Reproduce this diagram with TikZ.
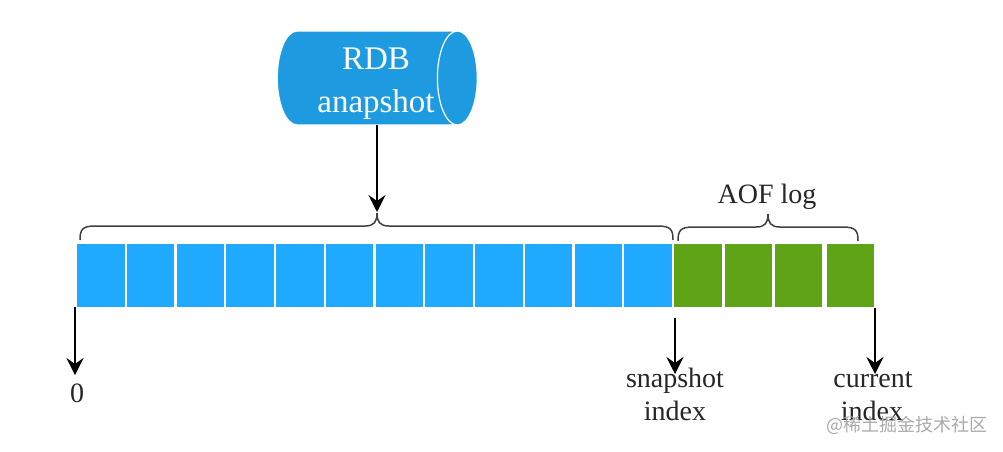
\documentclass[tikz,border=0pt]{standalone}
\usepackage{fontspec}
\setmainfont{Liberation Serif}
\newfontfamily\cjkfont{Noto Sans CJK SC}
\usetikzlibrary{arrows.meta,shapes.geometric}
\definecolor{dbblue}{HTML}{1E9BE0}
\definecolor{cellblue}{HTML}{1FA9FF}
\definecolor{cellgreen}{HTML}{5FA317}
\definecolor{markgray}{HTML}{A9A9A9}
\tikzset{
	snapcell/.style={fill=cellblue,minimum width=47.5pt,minimum height=63pt,inner sep=0pt},
	aofcell/.style={fill=cellgreen,minimum width=47.5pt,minimum height=63pt,inner sep=0pt},
	bracket/.style={draw=black!75,line width=1.5pt},
	pointer/.style={draw=black,line width=1.5pt,-{Stealth[length=17pt,width=17pt,inset=6pt]}},
	caption/.style={font=\fontsize{28}{33}\selectfont,text=black!85,align=center,inner sep=0pt}
}
% left end, tip, right end, y of the feet
\def\bracket(#1:#2:#3:#4){\draw[bracket] (#1,#4) .. controls (#1,#4-10) and (#1+2,#4-14) .. (#1+15,#4-14) -- (#2-12,#4-14) .. controls (#2-3,#4-14) and (#2,#4-18) .. (#2,#4-27) .. controls (#2,#4-18) and (#2+3,#4-14) .. (#2+12,#4-14) -- (#3-15,#4-14) .. controls (#3-2,#4-14) and (#3,#4-10) .. (#3,#4);}
\begin{document}
\begin{tikzpicture}[x=1pt,y=-1pt]
	%%%%% START %%%%%
	\def\ytop{275.5}
	\def\dxa{49.75}
	\useasboundingbox (0,0) rectangle (1003,451);

	\node[cylinder,shape aspect=0.48,draw=white,line width=1.2pt,cylinder uses custom fill,cylinder body fill=dbblue,cylinder end fill=dbblue,
		minimum height=200pt,minimum width=94pt,inner sep=0pt,text=white,align=center,font=\fontsize{33}{43}\selectfont] (db) at (367,78) {\hspace*{18pt}\rule{0pt}{33pt}RDB\\\hspace*{18pt}anapshot};

	\foreach \i in {0,...,11}
		\node[snapcell] (snap\i) at ({100.75+\i*\dxa},\ytop) {};
	\node[aofcell] (aof0) at (698,\ytop) {};
	\node[aofcell] (aof1) at (748.5,\ytop) {};
	\node[aofcell] (aof2) at (798.5,\ytop) {};
	\node[aofcell] (aof3) at (850.5,\ytop) {};

	\coordinate (sniptip) at (377,212);
	\coordinate (dbbase) at (377,125);
	\bracket(80:377:673:240)
	\bracket(678:768:858:241)
	\draw[pointer] (dbbase) -- (sniptip);

	\node[caption,anchor=base] (aoflabel) at (767,203) {AOF log};

	\node[caption,anchor=base] (zero) at (77,402) {0};
	\node[caption,anchor=base] (snaplabel) at (675,387) {snapshot};
	\node[caption,anchor=base] (snapindex) at (675,420) {index};
	\node[caption,anchor=base] (curlabel) at (873,387) {current};
	\node[caption,anchor=base] (curindex) at (872,420) {index};

	\coordinate (zerotop) at (75,307);
	\coordinate (zerotip) at (75,375);
	\coordinate (snaptop) at (675,318);
	\coordinate (snaptip) at (675,374);
	\coordinate (curtop) at (875,308);
	\coordinate (curtip) at (875,374);
	\draw[pointer] (zerotop) -- (zerotip);
	\draw[pointer] (snaptop) -- (snaptip);
	\draw[pointer] (curtop) -- (curtip);

	\node[anchor=east,inner sep=0pt,text=markgray,font=\fontsize{18}{20}\cjkfont] (mark) at (988,425) {@稀土掘金技术社区};
	%%%%% END %%%%%
\end{tikzpicture}
\end{document}
